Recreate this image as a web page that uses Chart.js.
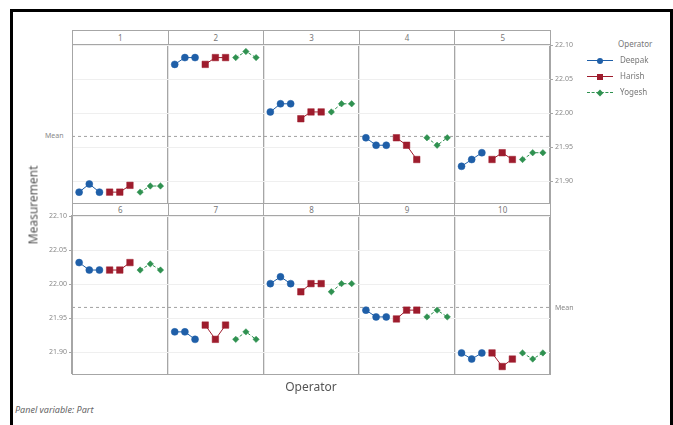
<!DOCTYPE html>
<html>
<head>
<meta charset="utf-8">
<script src="https://cdn.jsdelivr.net/npm/chart.js@4.4.1/dist/chart.umd.min.js"></script>
<style>
  body { margin: 0; background: #fff; font-family: 'Noto Sans', sans-serif; }
  #page { position: relative; width: 673px; height: 425px; overflow: hidden; }
  .frame { position: absolute; left: 10px; top: 9px; width: 663px; height: 430px; border: 3px solid #000; box-sizing: border-box; }
  .strip { position: absolute; border: 1px solid #a6a6a6; box-sizing: border-box; font-size: 8px; color: #777; text-align: center; background: #fff; }
  .box { position: absolute; border: 1px solid #a6a6a6; box-sizing: border-box; pointer-events: none; }
  .txt { position: absolute; white-space: nowrap; color: #777; }
  canvas { position: absolute; }
  .lg { position: absolute; left: 587px; width: 26px; height: 0; }
  .mk { position: absolute; }
</style>
</head>
<body>
<div id="page">
  <div class="frame"></div>
  <canvas id="row1"></canvas>
  <canvas id="row2"></canvas>
</div>
<script>
// Parts (panel variable) and the three operators
const parts = ['1', '2', '3', '4', '5', '6', '7', '8', '9', '10'];
const operators = ['Deepak', 'Harish', 'Yogesh'];
// Three trials per part for each operator
const deepak = [
  [21.884, 21.896, 21.884], [22.072, 22.082, 22.082], [22.002, 22.014, 22.014],
  [21.964, 21.953, 21.953], [21.922, 21.932, 21.942], [22.032, 22.021, 22.021],
  [21.930, 21.930, 21.919], [22.001, 22.011, 22.001], [21.962, 21.952, 21.952],
  [21.899, 21.890, 21.899]
];
const harish = [
  [21.884, 21.884, 21.894], [22.072, 22.082, 22.082], [21.992, 22.002, 22.002],
  [21.964, 21.953, 21.932], [21.932, 21.942, 21.932], [22.021, 22.021, 22.032],
  [21.940, 21.919, 21.940], [21.989, 22.001, 22.001], [21.949, 21.962, 21.962],
  [21.899, 21.879, 21.890]
];
const yogesh = [
  [21.884, 21.893, 21.893], [22.082, 22.091, 22.082], [22.002, 22.014, 22.014],
  [21.964, 21.953, 21.964], [21.932, 21.942, 21.942], [22.021, 22.030, 22.021],
  [21.919, 21.930, 21.919], [21.989, 22.001, 22.001], [21.952, 21.962, 21.952],
  [21.899, 21.890, 21.899]
];
const overallMean = 21.966;
const yTicks = [21.90, 21.95, 22.00, 22.05, 22.10];

const colors = ['#1f5fa8', '#9e1c2d', '#2f9150'];
const styles = ['circle', 'rect', 'rectRot'];
const radii = [3.5, 4.6, 3.2];
const dashes = [[], [], [3, 2]];
const allData = [deepak, harish, yogesh];

// one panel is 9.4 units wide on the x axis
const panelW = 9.4;
const panelEdges = [0, 1, 2, 3, 4, 5].map(k => k * panelW);

function buildDatasets(row) {
  const sets = [];
  allData.forEach((opData, o) => {
    const pts = [];
    for (let c = 0; c < 5; c++) {
      const vals = opData[row * 5 + c];
      vals.forEach((v, r) => pts.push({ x: c * panelW + 0.7 + o * 3 + r, y: v }));
      pts.push({ x: c * panelW + panelW - 0.1, y: null });
    }
    sets.push({
      label: operators[o],
      data: pts,
      borderColor: colors[o],
      backgroundColor: colors[o],
      borderWidth: 1,
      borderDash: dashes[o],
      pointStyle: styles[o],
      pointRadius: radii[o],
      pointBorderWidth: 0.5,
      spanGaps: false
    });
  });
  sets.push({
    label: 'Mean',
    data: [{ x: 0, y: overallMean }, { x: 5 * panelW, y: overallMean }],
    borderColor: '#a0a0a0',
    borderWidth: 1,
    borderDash: [3, 3],
    pointRadius: 0
  });
  return sets;
}

function makeRow(id, row, side) {
  const canvas = document.getElementById(id);
  const w = 478 + 45, h = 159 + 20;
  canvas.width = w; canvas.height = h;
  canvas.style.width = w + 'px'; canvas.style.height = h + 'px';
  canvas.style.left = (side === 'right' ? 72 : 27) + 'px';
  canvas.style.top = (row === 0 ? 34 : 205) + 'px';
  new Chart(canvas, {
    type: 'line',
    data: { datasets: buildDatasets(row) },
    options: {
      responsive: false,
      animation: false,
      layout: { autoPadding: false, padding: { top: 10, bottom: 10, left: 0, right: 0 } },
      plugins: { legend: { display: false }, tooltip: { enabled: false } },
      scales: {
        x: {
          type: 'linear', min: 0, max: 5 * panelW,
          afterBuildTicks: a => { a.ticks = panelEdges.map(v => ({ value: v })); },
          afterFit: a => { a.height = 0; },
          ticks: { display: false },
          grid: { color: '#a6a6a6', lineWidth: 1.3, drawTicks: false },
          border: { color: '#a6a6a6' }
        },
        y: {
          position: side, min: 21.868, max: 22.102,
          afterBuildTicks: a => { a.ticks = yTicks.map(v => ({ value: v })); },
          afterFit: a => { a.width = 45; },
          ticks: {
            callback: v => v.toFixed(2),
            font: { family: 'Noto Sans', size: 7 },
            color: '#888', padding: 2
          },
          grid: { color: '#efefef', tickColor: '#a6a6a6', tickLength: 3 },
          border: { color: '#a6a6a6' }
        }
      }
    }
  });
}

makeRow('row1', 0, 'right');
makeRow('row2', 1, 'left');

const page = document.getElementById('page');
function addDiv(cls, css, text) {
  const d = document.createElement('div');
  d.className = cls;
  Object.assign(d.style, css);
  if (text !== undefined) d.textContent = text;
  page.appendChild(d);
  return d;
}

// strip headers and panel frames
const colX = [72, 167.6, 263.2, 358.8, 454.4, 550];
parts.forEach((p, i) => {
  const row = Math.floor(i / 5), c = i % 5;
  const top = row === 0 ? 30 : 203;
  const hgt = row === 0 ? 15 : 13;
  addDiv('strip', {
    left: colX[c] + 'px', top: top + 'px',
    width: (colX[c + 1] - colX[c] + 1) + 'px', height: hgt + 'px', lineHeight: (hgt - 2) + 'px'
  }, p);
});
addDiv('box', { left: '72px', top: '44px', width: '479px', height: '160px' });
addDiv('box', { left: '72px', top: '215px', width: '479px', height: '160px' });

// mean labels
addDiv('txt', { left: '45px', top: '131px', fontSize: '7px', color: '#888' }, 'Mean');
addDiv('txt', { left: '555px', top: '303px', fontSize: '7px', color: '#888' }, 'Mean');

// axis titles
addDiv('txt', { left: '33px', top: '205px', fontSize: '12px', color: '#555',
  transform: 'translate(-50%, -50%) rotate(-90deg)' }, 'Measurement');
addDiv('txt', { left: '311px', top: '386px', fontSize: '12px', color: '#555',
  transform: 'translate(-50%, -50%)' }, 'Operator');
addDiv('txt', { left: '15px', top: '403px', fontSize: '9px', color: '#666', fontStyle: 'italic' }, 'Panel variable: Part');

// legend
addDiv('txt', { left: '618px', top: '38px', fontSize: '8px', color: '#777' }, 'Operator');
operators.forEach((name, o) => {
  const y = 60 + o * 16;
  addDiv('lg', { top: y + 'px', borderTop: '1px ' + (o === 2 ? 'dashed ' : 'solid ') + colors[o] });
  const s = 6;
  addDiv('mk', {
    left: (600 - s / 2) + 'px', top: (y - s / 2 + 0.5) + 'px', width: s + 'px', height: s + 'px',
    background: colors[o], borderRadius: o === 0 ? '50%' : '0',
    transform: o === 2 ? 'rotate(45deg) scale(0.8)' : 'none'
  });
  addDiv('txt', { left: '620px', top: (y - 6) + 'px', fontSize: '8px', color: '#777' }, name);
});
</script>
</body>
</html>
